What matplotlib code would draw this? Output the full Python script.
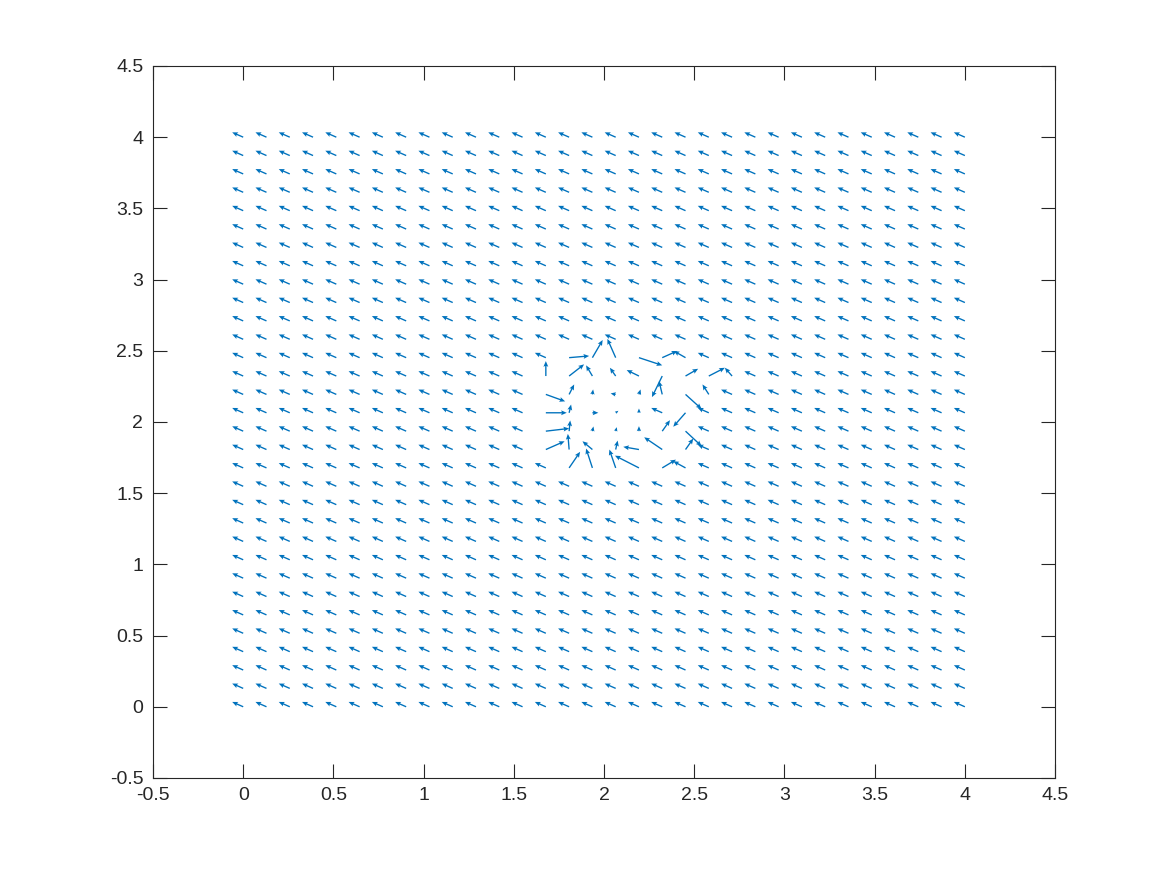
import numpy as np
import matplotlib
matplotlib.use('Agg')
import matplotlib.pyplot as plt

plt.rcParams['font.family'] = ['Liberation Sans', 'DejaVu Sans']
plt.rcParams['axes.unicode_minus'] = False

# grid of the vector field (32 x 32 points from 0 to 4)
n_pts = 32
grid_x = np.linspace(0, 4, n_pts)
grid_y = np.linspace(0, 4, n_pts)

# background (uniform) vector
base_u = -0.061
base_v = 0.034

# disturbed patch: rows j = 13..19, columns k = 13..21
patch_rows = [13, 14, 15, 16, 17, 18, 19]
patch_cols = [13, 14, 15, 16, 17, 18, 19, 20, 21]
patch_u = [
    [-0.061, 0.061, -0.035, -0.035, -0.133, 0.076, -0.068, -0.061, -0.061],   # j=13
    [0.104, -0.007, -0.055, 0.011, -0.087, -0.100, 0.043, -0.061, -0.061],    # j=14
    [0.129, 0.006, 0.006, 0.006, 0.000, 0.043, 0.089, -0.061, -0.061],        # j=15
    [0.116, 0.011, 0.033, 0.015, 0.000, -0.061, -0.068, -0.061, -0.061],      # j=16
    [0.107, 0.028, 0.004, -0.028, 0.009, -0.018, 0.089, -0.035, -0.061],      # j=17
    [0.000, 0.083, -0.035, -0.032, -0.068, -0.057, 0.070, 0.089, -0.040],     # j=18
    [-0.061, 0.111, 0.057, -0.046, 0.129, 0.083, -0.065, -0.061, -0.061],     # j=19
]
patch_v = [
    [0.034, 0.113, 0.136, 0.129, 0.086, 0.058, 0.047, 0.034, 0.034],          # j=13
    [0.058, 0.110, 0.058, 0.063, 0.019, 0.086, 0.077, 0.034, 0.034],          # j=14
    [0.019, 0.075, 0.033, 0.028, 0.035, 0.077, -0.105, 0.034, 0.034],         # j=15
    [0.000, 0.058, 0.000, 0.014, 0.030, 0.034, -0.098, 0.034, 0.034],         # j=16
    [-0.049, 0.070, 0.035, 0.007, 0.035, 0.094, -0.102, 0.070, 0.034],        # j=17
    [0.105, 0.082, 0.075, 0.058, 0.042, -0.148, 0.051, 0.058, 0.058],         # j=18
    [0.034, 0.012, 0.124, 0.132, -0.054, 0.047, 0.047, 0.034, 0.034],         # j=19
]

tick_vals = [-0.5, 0, 0.5, 1, 1.5, 2, 2.5, 3, 3.5, 4, 4.5]
tick_labels = ['-0.5', '0', '0.5', '1', '1.5', '2', '2.5', '3', '3.5', '4', '4.5']

X, Y = np.meshgrid(grid_x, grid_y)
U = np.full(X.shape, base_u)
V = np.full(X.shape, base_v)
U[np.ix_(patch_rows, patch_cols)] = np.array(patch_u)
V[np.ix_(patch_rows, patch_cols)] = np.array(patch_v)

fig = plt.figure(figsize=(11.67, 8.75), dpi=100)
ax = fig.add_axes([0.1311, 0.1109, 0.773, 0.8137])

ax.quiver(X, Y, U, V, angles='xy', scale_units='xy', scale=1,
          color='#0072BD', width=0.0015, headwidth=3.6, headlength=4.2,
          headaxislength=3.6)

ax.set_xlim(-0.5, 4.5)
ax.set_ylim(-0.5, 4.5)
ax.set_xticks(tick_vals)
ax.set_xticklabels(tick_labels)
ax.set_yticks(tick_vals)
ax.set_yticklabels(tick_labels)

ax.tick_params(direction='in', length=10, width=0.8, colors='#262626',
               labelsize=14, top=True, right=True)
ax.tick_params(axis='x', pad=6.5)
ax.tick_params(axis='y', pad=7)
for sp in ax.spines.values():
    sp.set_color('#262626')
    sp.set_linewidth(0.8)

fig.savefig('out.png', dpi=100)
